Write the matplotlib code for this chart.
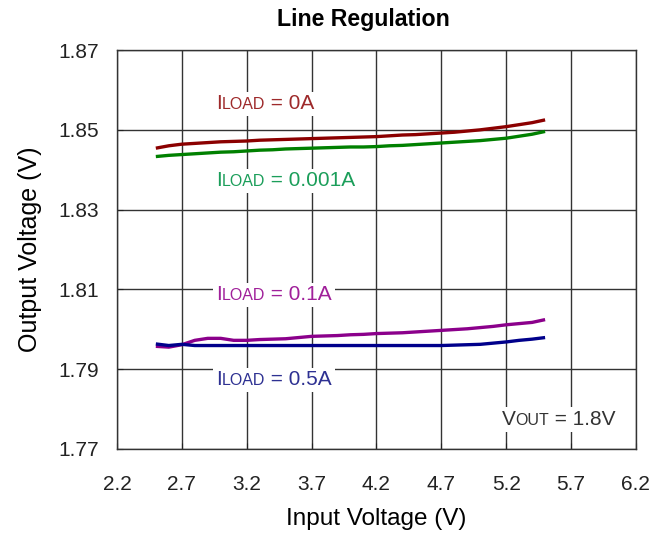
import matplotlib
matplotlib.use("Agg")
import matplotlib.pyplot as plt
from matplotlib.offsetbox import TextArea, HPacker, AnnotationBbox

plt.rcParams['font.family'] = ['Liberation Sans', 'DejaVu Sans']

# Data
vin_0a = [2.5, 2.6, 2.7, 2.8, 2.9, 3.0, 3.1, 3.2, 3.3, 3.4, 3.5, 3.6, 3.7, 3.8, 3.9, 4.0,
          4.1, 4.2, 4.3, 4.4, 4.5, 4.6, 4.7, 4.8, 4.9, 5.0, 5.1, 5.2, 5.3, 5.4, 5.5]
vout_0a = [1.8454, 1.8460, 1.8464, 1.8466, 1.8468, 1.8470, 1.8471, 1.8472, 1.8474, 1.8475,
           1.8476, 1.8477, 1.8478, 1.8479, 1.8480, 1.8481, 1.8482, 1.8483, 1.8485, 1.8487,
           1.8488, 1.8490, 1.8492, 1.8494, 1.8497, 1.8500, 1.8504, 1.8508, 1.8513, 1.8518, 1.8525]
vout_1ma = [1.8433, 1.8436, 1.8438, 1.8440, 1.8442, 1.8444, 1.8445, 1.8447, 1.8449, 1.8450,
            1.8452, 1.8453, 1.8454, 1.8455, 1.8456, 1.8457, 1.8457, 1.8458, 1.8460, 1.8461,
            1.8463, 1.8465, 1.8467, 1.8469, 1.8471, 1.8473, 1.8476, 1.8479, 1.8484, 1.8489, 1.8496]
vout_100ma = [1.7957, 1.7955, 1.7961, 1.7972, 1.7977, 1.7977, 1.7972, 1.7972, 1.7974, 1.7975,
              1.7976, 1.7979, 1.7982, 1.7983, 1.7984, 1.7986, 1.7987, 1.7989, 1.7990, 1.7991,
              1.7993, 1.7995, 1.7997, 1.7999, 1.8001, 1.8004, 1.8007, 1.8011, 1.8014, 1.8017, 1.8024]
vout_500ma = [1.7963, 1.7959, 1.7962, 1.7959, 1.7959, 1.7959, 1.7959, 1.7959, 1.7959, 1.7959,
              1.7959, 1.7959, 1.7959, 1.7959, 1.7959, 1.7959, 1.7959, 1.7959, 1.7959, 1.7959,
              1.7959, 1.7959, 1.7959, 1.7960, 1.7961, 1.7962, 1.7965, 1.7968, 1.7972, 1.7975, 1.7979]

series = [
    (vout_0a, '#8B0000'),
    (vout_1ma, '#008000'),
    (vout_100ma, '#8B008B'),
    (vout_500ma, '#00008B'),
]

x_ticks = [2.2, 2.7, 3.2, 3.7, 4.2, 4.7, 5.2, 5.7, 6.2]
y_ticks = [1.77, 1.79, 1.81, 1.83, 1.85, 1.87]

labels = [
    ("I", "LOAD", " = 0A", '#9E2A2B', 2.965, 1.8565),
    ("I", "LOAD", " = 0.001A", '#1B9E5A', 2.965, 1.8372),
    ("I", "LOAD", " = 0.1A", '#A0209A', 2.965, 1.8086),
    ("I", "LOAD", " = 0.5A", '#2E3192', 2.965, 1.7873),
    ("V", "OUT", " = 1.8V", '#333333', 5.165, 1.7773),
]

fig = plt.figure(figsize=(6.68, 5.33), dpi=100)
ax = fig.add_axes([0.175, 0.158, 0.777, 0.748])

for vals, col in series:
    ax.plot(vin_0a, vals, color=col, lw=2.4, zorder=3, solid_capstyle='butt')

ax.set_xlim(2.2, 6.2)
ax.set_ylim(1.77, 1.87)
ax.set_xticks(x_ticks)
ax.set_yticks(y_ticks)
ax.set_xticklabels([f"{t:.1f}" for t in x_ticks])
ax.set_yticklabels([f"{t:.2f}" for t in y_ticks])
ax.tick_params(direction='in', length=4, labelsize=15, pad=13, colors='#222222')
ax.tick_params(axis='x', pad=19)
ax.grid(True, color='#333333', lw=1.0, zorder=1)
for s in ax.spines.values():
    s.set_color('#333333')
    s.set_linewidth(1.0)

ax.set_xlabel("Input Voltage (V)", fontsize=17.5, labelpad=10)
ax.set_ylabel("Output Voltage (V)", fontsize=18, labelpad=12)
ax.set_title("Line Regulation", fontsize=16.7, fontweight='bold', pad=17, x=0.475)

for big, small, rest, col, x, y in labels:
    parts = [TextArea(big, textprops=dict(color=col, fontsize=15)),
             TextArea(small, textprops=dict(color=col, fontsize=11.5)),
             TextArea(rest, textprops=dict(color=col, fontsize=15))]
    box = HPacker(children=parts, align="baseline", pad=0, sep=0)
    ab = AnnotationBbox(box, (x, y), xycoords='data', box_alignment=(0, 0.5),
                        frameon=True, pad=0.2,
                        bboxprops=dict(facecolor='white', edgecolor='none'))
    ab.set_zorder(4)
    ax.add_artist(ab)

fig.savefig("out.png", dpi=100)
